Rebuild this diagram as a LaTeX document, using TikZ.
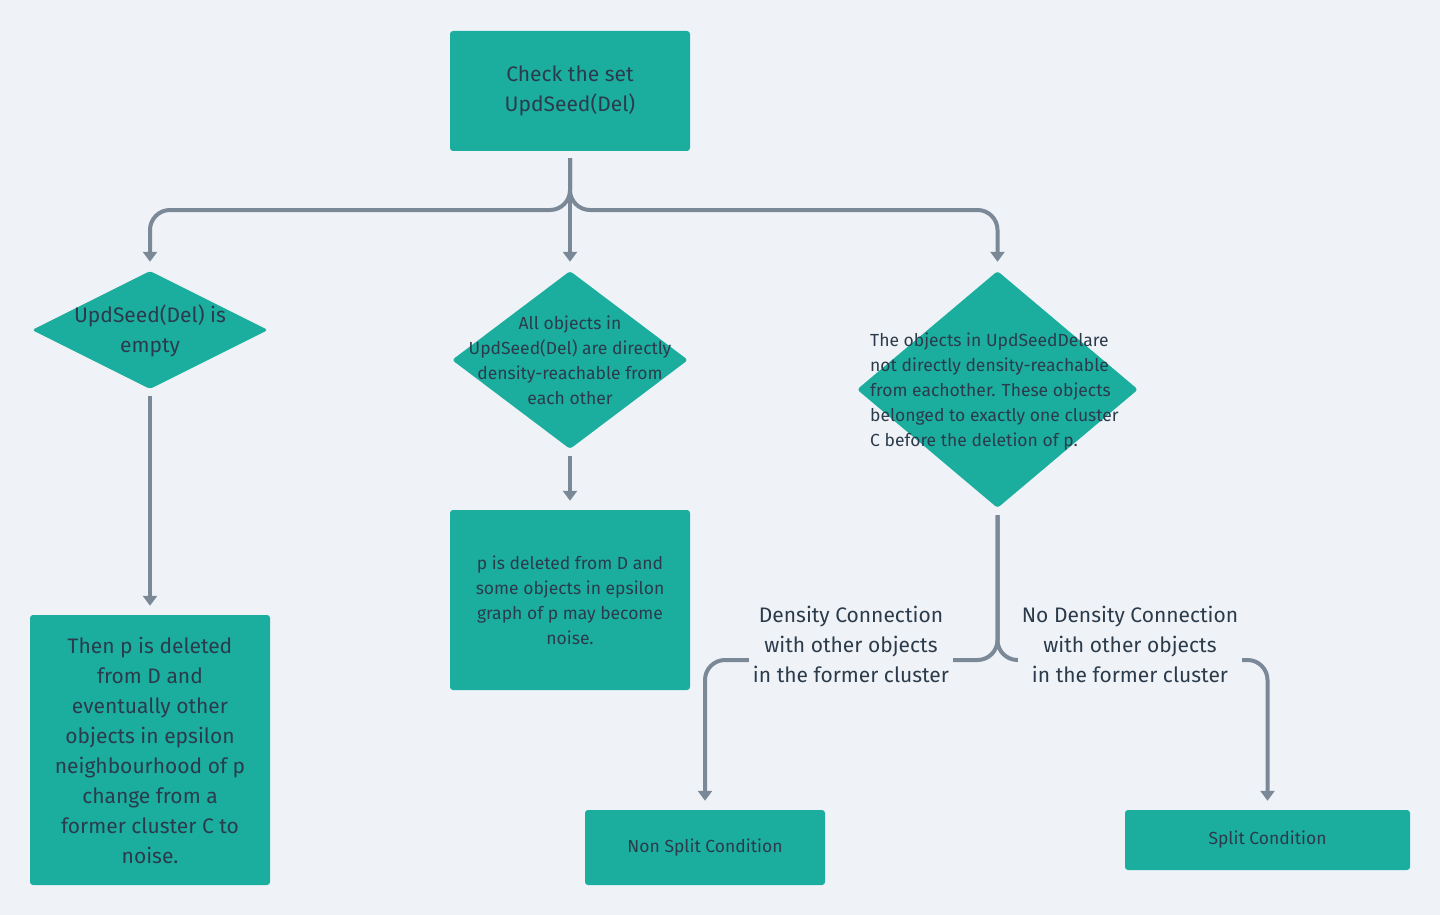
\documentclass[tikz,border=0pt]{standalone}
\usepackage{fontspec}
\setmainfont{Fira Sans}
\usetikzlibrary{positioning, shapes.geometric, arrows.meta}
\definecolor{bgcol}{HTML}{EFF3F7}
\definecolor{tealbox}{HTML}{1BAE9F}
\definecolor{ink}{HTML}{2B3B4B}
\definecolor{wire}{HTML}{7A8897}
\tikzstyle{big}=[font=\fontsize{21}{30}\selectfont]
\tikzstyle{small}=[font=\fontsize{17.5}{25}\selectfont]
\tikzstyle{process}=[rectangle, fill=tealbox, rounded corners=3pt, inner sep=0pt, align=center]
\tikzstyle{decision}=[diamond, fill=tealbox, rounded corners=3pt, inner sep=0pt]
\tikzstyle{dtext}=[inner sep=0pt, align=center]
\tikzstyle{conn}=[draw=wire, line width=4pt, rounded corners=20pt, -{Triangle[width=14pt,length=10pt]}, shorten >=9pt, shorten <=7pt]
\tikzstyle{annot}=[fill=bgcol, align=center, inner sep=4pt, big]

\begin{document}
\begin{tikzpicture}[x=1pt, y=-1pt, text=ink]
		\fill[bgcol] (0,0) rectangle (1440,915);
		\useasboundingbox (0,0) rectangle (1440,915);

		% Start box
		\node[process, big, minimum width=240, minimum height=120] (check) at (570,91) {Check the set\\UpdSeed(Del)};

		% Decisions
		\node[decision, minimum width=236, minimum height=118] (empty) at (150,330) {};
		\node[dtext, big] (empty-t) at (150,331) {UpdSeed(Del) is\\empty};

		\node[decision, minimum width=236, minimum height=178] (reach) at (570,360) {};
		\node[dtext, small] (reach-t) at (reach) {All objects in\\UpdSeed(Del) are directly\\density-reachable from\\each other};

		\node[decision, minimum width=281, minimum height=237] (noreach) at (997.5,389.5) {};
		\node[dtext, small, align=left, anchor=west] (noreach-t) at (870,392) {The objects in UpdSeedDelare\\not directly density-reachable\\from eachother. These objects\\belonged to exactly one cluster\\C before the deletion of p.};

		% Results
		\node[process, big, minimum width=240, minimum height=270] (noise) at (150,750) {Then p is deleted\\from D and\\eventually other\\objects in epsilon\\neighbourhood of p\\change from a\\former cluster C to\\noise.};
		\node[process, small, minimum width=240, minimum height=180] (pdel) at (570,600) {p is deleted from D and\\some objects in epsilon\\graph of p may become\\noise.};
		\node[process, small, minimum width=240, minimum height=75] (nonsplit) at (705,847.5) {Non Split Condition};
		\node[process, small, minimum width=285, minimum height=60] (split) at (1267.5,840) {Split Condition};

		% Connectors
		\coordinate (fork) at (570,210);
		\coordinate (branch) at (997.5,660);
		\draw[conn] (check.south) -- (fork) -| (empty.north);
		\draw[conn] (check.south) -- (reach.north);
		\draw[conn] (check.south) -- (fork) -| (noreach.north);
		\draw[conn] (empty.south) -- (noise.north);
		\draw[conn] (reach.south) -- (pdel.north);
		\draw[conn] (noreach.south) -- (branch) -| (nonsplit.north);
		\draw[conn] (noreach.south) -- (branch) -| (split.north);

		% Branch labels
		\node[annot] (dens) at (851,644) {Density Connection\\with other objects\\in the former cluster};
		\node[annot] (nodens) at (1130,644) {No Density Connection\\with other objects\\in the former cluster};
	\end{tikzpicture}
\end{document}
